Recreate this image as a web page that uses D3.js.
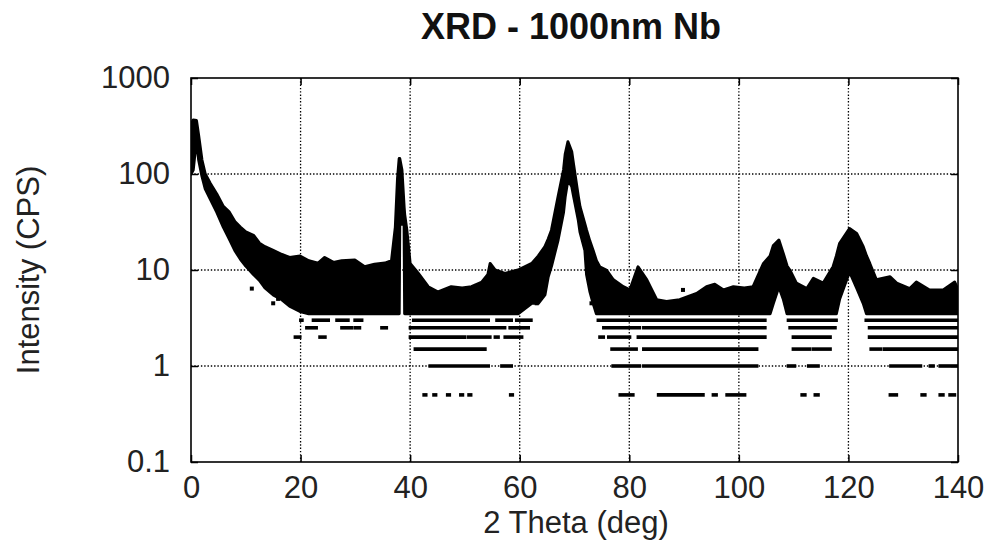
<!DOCTYPE html>
<html>
<head>
<meta charset="utf-8">
<script src="https://cdn.jsdelivr.net/npm/d3@7"></script>
<style>
  body { margin: 0; background: #fff; }
  svg { font-family: "Liberation Sans", Arial, sans-serif; }
</style>
</head>
<body>
<div id="chart-area"></div>
<script>
// 2 theta (deg) and the top / bottom edge of the dense point cloud (CPS)
var theta = [0, 0.4, 1.0, 1.4, 2.0, 2.6, 3.5, 4.7, 5.9, 7.0, 8.0, 9.0, 10.0, 11.4, 12.5, 13.5, 15.0, 16.6, 18.0, 19.9,
    21.5, 23.2, 24.4, 26.0, 27.5, 29.9, 31.7, 33.5, 35.4, 36.6, 37.3, 37.7, 38.0, 38.1, 38.5, 38.9, 39.0, 39.4, 40.0, 41.5, 43.3,
    45.1, 47.5, 49.5, 51.2, 53.1, 54.2, 54.6, 55.5, 57.3, 59.7, 62.2, 63.4, 64.6, 65.2, 65.8, 67.0, 68.0, 68.3, 68.8, 69.5,
    69.8, 70.7, 71.0, 71.9, 72.2, 72.8, 73.4, 74.0, 74.6, 75.8, 77.1, 78.9, 80.1, 81.6, 83.2, 85.0, 86.8, 89.2, 92.3, 94.1,
    95.6, 97.2, 99.0, 101.0, 102.6, 104.5, 105.7, 106.3, 107.3, 108.1, 108.8, 109.3, 110.5, 112.4, 113.6, 115.4, 117.2, 117.8, 118.4, 120.2,
    121.5, 122.7, 123.3, 123.9, 125.1, 127.6, 128.8, 131.2, 132.4, 134.8, 137.3, 139.4, 140];
var upper = [330, 365, 360, 250, 140, 100, 80, 62, 46, 40, 32, 28, 25, 23, 19, 17.5, 16, 14.5, 13.5, 14,
    12.5, 11.8, 13.5, 12, 12.5, 12.7, 10.8, 11.5, 11.8, 12.5, 28, 90, 145, 145, 110, 45, 38, 26, 11.7, 9.2, 6.7,
    5.9, 6.7, 6.5, 6.7, 7.5, 9, 11.7, 10, 9.2, 10, 11.7, 14, 17.5, 21, 26, 58, 110, 160, 217, 170,
    129, 58, 45.6, 30, 26, 20, 16, 12.5, 10.8, 10, 7.9, 6.7, 6.2, 10.8, 7.9, 4.9, 4.7, 4.9, 5.7, 6.7,
    7.1, 6.2, 6.7, 6.5, 6.7, 11.7, 14, 18, 20.5, 14.9, 11, 10, 7.3, 6.4, 8.2, 7.3, 10.8, 14, 19, 27,
    24, 17.5, 14, 11.7, 7.9, 8.5, 7.3, 6.4, 7.5, 6.2, 6.2, 7.5, 6.2];
var lower = [100, 110, 230, 140, 95, 70, 55, 40, 28, 21, 16, 13, 11, 9, 7.8, 6.5, 5.5, 4.9, 4.2, 3.7,
    3.5, 3.5, 3.5, 3.5, 3.5, 3.5, 3.5, 3.5, 3.5, 3.5, 3.5, 3.5, 3.5, 30, 30, 30, 3.5, 3.5, 3.5, 3.5, 3.5,
    3.5, 3.5, 3.5, 3.5, 3.5, 3.5, 3.5, 3.5, 3.5, 3.5, 4.5, 4.5, 5.5, 8.5, 11, 20.5, 40, 58, 87, 74,
    60, 33, 25, 16, 9, 6, 4.5, 3.5, 3.5, 3.5, 3.5, 3.5, 3.5, 3.5, 3.5, 3.5, 3.5, 3.5, 3.5, 3.5,
    3.5, 3.5, 3.5, 3.5, 3.5, 3.5, 3.5, 4.5, 6.7, 5, 3.5, 3.5, 3.5, 3.5, 3.5, 3.5, 3.5, 3.5, 5, 9.6,
    6.5, 4.5, 3.5, 3.5, 3.5, 3.5, 3.5, 3.5, 3.5, 3.5, 3.5, 3.5, 3.5];

// low count rows (CPS level -> runs of 2 theta)
var runs30 = [[20.0, 20.3], [22.3, 25.1], [26.6, 28.7], [29.9, 31.2], [40.6, 54.3], [55.8, 58.5], [59.4, 62.1], [74.3, 104.8], [109.0, 117.8], [123.2, 140]];
var runs25 = [[21.1, 22.9], [27.5, 29.3], [29.9, 30.8], [34.8, 35.7], [40.0, 57.3], [58.2, 61.6], [75.3, 81.9], [82.6, 104.8], [109.3, 117.6], [123.8, 140]];
var runs20 = [[19.0, 19.9], [23.5, 24.5], [40.0, 50.0], [50.6, 54.6], [55.5, 56.1], [57.3, 60.4], [74.6, 75.3], [76.2, 80.1], [81.6, 104.8], [109.9, 116.7], [123.8, 140]];
var runs15 = [[40.9, 53.7], [76.8, 81.3], [82.6, 103.3], [109.9, 113.0], [113.6, 116.7], [124.1, 125.9], [126.5, 140]];
var runs10 = [[43.6, 54.3], [56.7, 58.5], [77.0, 81.9], [82.6, 103.3], [109.0, 110.2], [112.7, 114.5], [127.7, 133.2], [134.9, 135.5], [136.7, 140]];
var runs05 = [[42.5, 42.9], [44.3, 44.7], [46.8, 47.2], [49.2, 49.6], [50.7, 51.1], [58.3, 58.7], [78.3, 80.7], [85.3, 93.5], [95.3, 95.9],
    [97.8, 101.1], [111.5, 112.1], [113.9, 114.5], [127.6, 128.8], [133.4, 134.0], [136.7, 137.3], [138.5, 139.4]];
var levels = [3.0, 2.5, 2.0, 1.5, 1.0, 0.5];
var runs = [runs30, runs25, runs20, runs15, runs10, runs05];

// stray single points [2 theta, CPS]
var strays = [[11.1, 6.4], [15.0, 4.5], [15.9, 5.0], [63.1, 4.5], [73.1, 4.5], [89.8, 6.2]];

var xTicks = [0, 20, 40, 60, 80, 100, 120, 140];
var yTicks = [0.1, 1, 10, 100, 1000];

var svg = d3.select("#chart-area").append("svg")
    .attr("width", 990)
    .attr("height", 550);

var x = d3.scaleLinear().domain([0, 140]).range([191, 958]);
var y = d3.scaleLog().domain([0.1, 1000]).range([462, 78]);

// grid
var grid = svg.append("g").attr("stroke", "#000").attr("stroke-width", 1.3).attr("stroke-dasharray", "1.4,1.9");
xTicks.slice(1, -1).forEach(function (t) {
    grid.append("line").attr("x1", x(t)).attr("x2", x(t)).attr("y1", 78).attr("y2", 462);
});
yTicks.slice(1, -1).forEach(function (t) {
    grid.append("line").attr("x1", 191).attr("x2", 958).attr("y1", y(t)).attr("y2", y(t));
});

svg.append("clipPath").attr("id", "plot-clip")
    .append("rect").attr("x", 191).attr("y", 78).attr("width", 767).attr("height", 384);

var data = svg.append("g").attr("clip-path", "url(#plot-clip)");

var cloud = theta.map(function (t, i) { return { t: t, hi: upper[i], lo: lower[i] }; });
var area = d3.area()
    .x(function (d) { return x(d.t); })
    .y0(function (d) { return y(d.lo); })
    .y1(function (d) { return y(d.hi); });

data.append("path")
    .datum(cloud)
    .attr("d", area)
    .attr("fill", "#000")
    .attr("stroke", "#000")
    .attr("stroke-width", 3)
    .attr("stroke-linejoin", "round");

levels.forEach(function (lv, k) {
    runs[k].forEach(function (r) {
        data.append("line")
            .attr("x1", x(r[0]) - 1.5)
            .attr("x2", x(r[1]) + 1.5)
            .attr("y1", y(lv))
            .attr("y2", y(lv))
            .attr("stroke", "#000")
            .attr("stroke-width", 3.6);
    });
});

strays.forEach(function (p) {
    data.append("rect")
        .attr("x", x(p[0]) - 2)
        .attr("y", y(p[1]) - 2)
        .attr("width", 4)
        .attr("height", 4)
        .attr("fill", "#000");
});

// axes with inward ticks on all four sides
var tickLen = 7;
svg.append("g").attr("transform", "translate(0,462)")
    .call(d3.axisBottom(x).tickValues(xTicks).tickSize(-tickLen).tickPadding(14))
    .call(function (g) { g.select(".domain").remove(); });
svg.append("g").attr("transform", "translate(0,78)")
    .call(d3.axisTop(x).tickValues(xTicks).tickSize(-tickLen).tickFormat(""))
    .call(function (g) { g.select(".domain").remove(); });
svg.append("g").attr("transform", "translate(191,0)")
    .call(d3.axisLeft(y).tickValues(yTicks).tickSize(-tickLen).tickPadding(21).tickFormat(d3.format("~g")))
    .call(function (g) { g.select(".domain").remove(); });
svg.append("g").attr("transform", "translate(958,0)")
    .call(d3.axisRight(y).tickValues(yTicks).tickSize(-tickLen).tickFormat(""))
    .call(function (g) { g.select(".domain").remove(); });

svg.selectAll(".tick line").attr("stroke", "#000").attr("stroke-width", 1.5);
svg.selectAll(".tick text").attr("font-size", 31).attr("fill", "#222").attr("font-family", null);

svg.append("rect")
    .attr("x", 191).attr("y", 78).attr("width", 767).attr("height", 384)
    .attr("fill", "none").attr("stroke", "#000").attr("stroke-width", 1.6);

svg.append("text")
    .attr("x", 571).attr("y", 39)
    .attr("text-anchor", "middle")
    .attr("font-size", 36).attr("font-weight", "bold").attr("fill", "#111")
    .text("XRD - 1000nm Nb");

svg.append("text")
    .attr("x", 576).attr("y", 533)
    .attr("text-anchor", "middle")
    .attr("font-size", 31).attr("fill", "#222")
    .text("2 Theta (deg)");

svg.append("text")
    .attr("transform", "translate(39,270) rotate(-90)")
    .attr("text-anchor", "middle")
    .attr("font-size", 31).attr("fill", "#222")
    .text("Intensity (CPS)");
</script>
</body>
</html>
